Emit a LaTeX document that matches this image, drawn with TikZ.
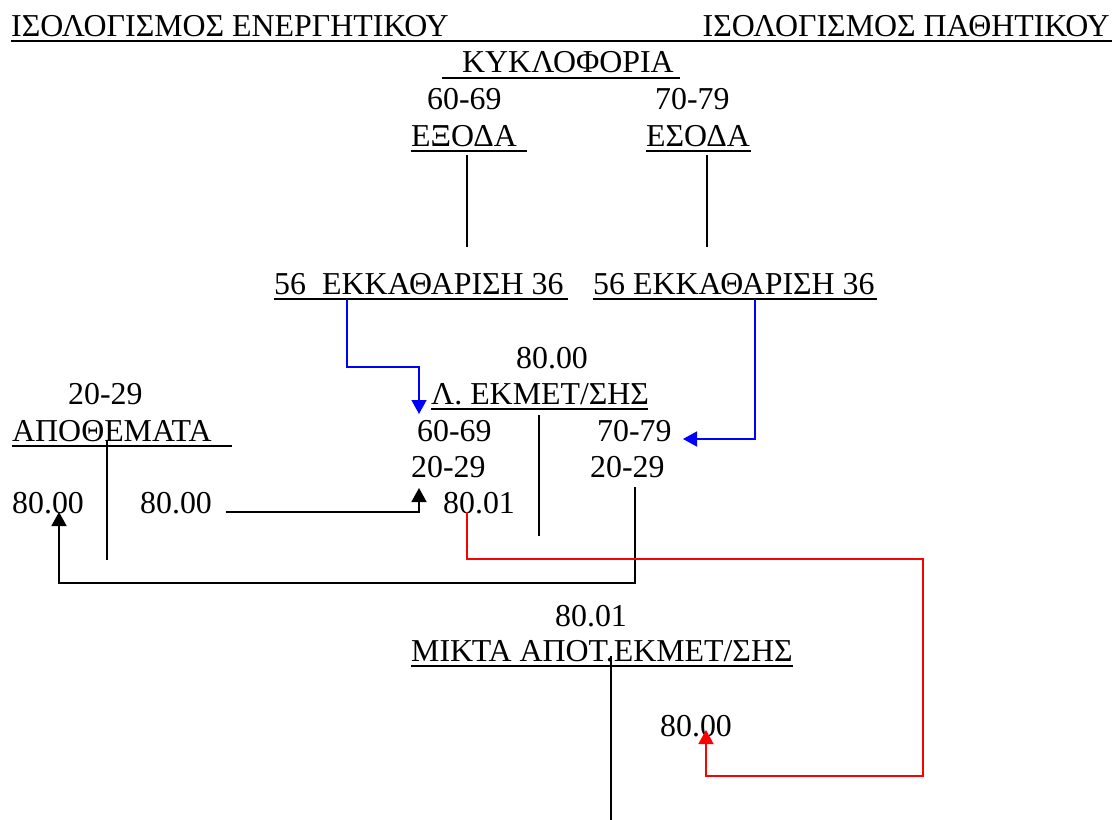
\documentclass[tikz,border=0pt]{standalone}
\usepackage{fontspec}
\setmainfont{Liberation Serif}
\usetikzlibrary{arrows.meta}
\definecolor{pureblue}{RGB}{0,0,255}
\definecolor{purered}{RGB}{255,0,0}
\tikzset{
  txt/.style={inner sep=0pt, anchor=base west, font=\fontsize{32}{37}\selectfont},
  uline/.style={line width=1.8bp},
  tline/.style={line width=1.6bp},
  conn/.style={line width=1.6bp, -{Triangle[width=15bp,length=14bp]}},
  bconn/.style={conn, draw=pureblue},
  rconn/.style={conn, draw=purered},
  kconn/.style={conn, draw=black},
}
\begin{document}
\begin{tikzpicture}[x=1bp,y=-1bp]
\useasboundingbox (0,0) rectangle (1117,820);
% titles
\node[txt] (tl) at (11,36.5) {ΙΣΟΛΟΓΙΣΜΟΣ ΕΝΕΡΓΗΤΙΚΟΥ};
\node[txt, anchor=base east] (tr) at (1110,36.5) {ΙΣΟΛΟΓΙΣΜΟΣ ΠΑΘΗΤΙΚΟΥ};
\draw[uline] (11,41) -- (1112,41);
% circulation
\node[txt] (kyk) at (462,73) {ΚΥΚΛΟΦΟΡΙΑ};
\draw[uline] (442,78) -- (680,78);
\node[txt] (c6069) at (427,109.5) {60-69};
\node[txt] (c7079) at (655,109.5) {70-79};
\node[txt] (exoda) at (411,146) {ΕΞΟΔΑ};
\draw[uline] (411,151) -- (527,151);
\node[txt] (esoda) at (646,146) {ΕΣΟΔΑ};
\draw[uline] (646,151) -- (751,151);
\coordinate (exT) at (467,155);
\coordinate (exB) at (467,247);
\coordinate (esT) at (707,155);
\coordinate (esB) at (707,247);
\draw[tline] (exT) -- (exB);
\draw[tline] (esT) -- (esB);
% clearing
\node[txt] (ekkL) at (274,294) {56\ \ ΕΚΚΑΘΑΡΙΣΗ 36};
\draw[uline] (274,299) -- (568,299);
\node[txt] (ekkR) at (593,294) {56 ΕΚΚΑΘΑΡΙΣΗ 36};
\draw[uline] (593,299) -- (877,299);
% operating account
\node[txt] (lt8000) at (516,368) {80.00};
\node[txt] (lek) at (431,404) {Λ. ΕΚΜΕΤ/ΣΗΣ};
\draw[uline] (431,409) -- (648,409);
\coordinate (lekT) at (539,415);
\coordinate (lekB) at (539,536);
\draw[tline] (lekT) -- (lekB);
\node[txt] (l6069) at (417,441) {60-69};
\node[txt] (l7079) at (597,441) {70-79};
\node[txt] (l2029a) at (411,477) {20-29};
\node[txt] (l2029b) at (590,477) {20-29};
\node[txt] (l8001) at (443,513) {80.01};
% inventories
\node[txt] (a2029) at (68,404) {20-29};
\node[txt] (apo) at (12,441) {ΑΠΟΘΕΜΑΤΑ};
\draw[uline] (12,446) -- (232,446);
\coordinate (apoT) at (107,441);
\coordinate (apoB) at (107,560);
\draw[tline] (apoT) -- (apoB);
\node[txt] (a8000a) at (12,513) {80.00};
\node[txt] (a8000b) at (140,513) {80.00};
% mixed result
\node[txt] (m8001) at (555,626) {80.01};
\node[txt] (mikta) at (411,661) {ΜΙΚΤΑ ΑΠΟΤ.ΕΚΜΕΤ/ΣΗΣ};
\draw[uline] (411,666) -- (mikta.base east |- 0,666);
\coordinate (mikT) at (611,656);
\coordinate (mikB) at (611,820);
\draw[tline] (mikT) -- (mikB);
\node[txt] (m8000) at (660,736) {80.00};
% connectors
\coordinate (b1s) at (347,299);
\coordinate (b1m) at (419,367);
\coordinate (b1e) at (419,414);
\draw[bconn] (b1s) |- (b1m) -- (b1e);
\coordinate (b2s) at (755,299);
\coordinate (b2e) at (683,439);
\draw[bconn] (b2s) |- (b2e);
\coordinate (k1s) at (226,512);
\coordinate (k1e) at (419,488);
\draw[kconn] (k1s) -| (k1e);
\coordinate (k2s) at (635,487);
\coordinate (k2m) at (59,583);
\coordinate (k2e) at (59,512);
\draw[kconn] (k2s) |- (k2m) -- (k2e);
\coordinate (r1s) at (467,512);
\coordinate (r1a) at (923,559);
\coordinate (r1b) at (706,776);
\coordinate (r1e) at (706,730);
\draw[rconn] (r1s) |- (r1a) |- (r1b) -- (r1e);
\end{tikzpicture}
\end{document}
